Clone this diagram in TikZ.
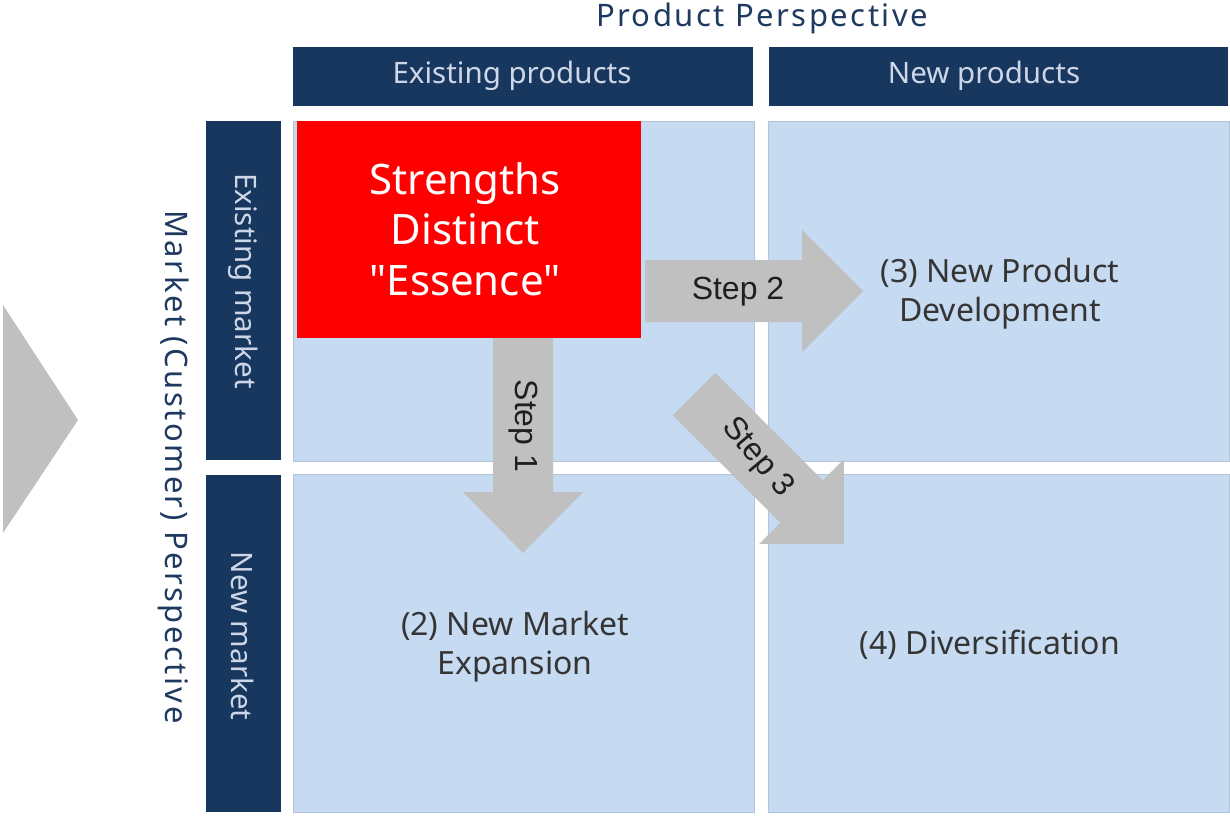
\documentclass[tikz,border=0pt]{standalone}
\usepackage{fontspec}
\setmainfont{Noto Sans}
\newfontfamily\arialf{Liberation Sans}
\newfontfamily\spacedf[LetterSpace=8]{Noto Sans}
\newfontfamily\redf[Ligatures=TeXOff]{Noto Sans}
\usetikzlibrary{calc}
\definecolor{navy}{HTML}{17375E}
\definecolor{hdrtext}{HTML}{CDD7E8}
\definecolor{quadblue}{HTML}{C6DAF2}
\definecolor{quadedge}{HTML}{B4C4D8}
\definecolor{darktext}{HTML}{353535}
\definecolor{arrowgray}{HTML}{C0C0C0}
\definecolor{pptext}{HTML}{1F3A60}
\tikzset{
  hdrbox/.style={fill=navy, draw=none, inner sep=0pt},
  hdrlabel/.style={text=hdrtext, font=\fontsize{29.5}{32}\selectfont, inner sep=0pt},
  quadbox/.style={fill=quadblue, draw=quadedge, line width=0.8pt},
  quadlabel/.style={text=darktext, font=\fontsize{32}{39}\selectfont, align=center, inner sep=0pt},
  steparrow/.style={fill=arrowgray, draw=none},
  steplabel/.style={text=black!88, font=\arialf\fontsize{32}{34}\selectfont, inner sep=0pt},
  perspective/.style={text=pptext, font=\spacedf\fontsize{31}{34}\selectfont, inner sep=0pt}
}
\begin{document}
\begin{tikzpicture}[x=1pt, y=-1pt]
\useasboundingbox (0,0) rectangle (1230,815);
\fill[white] (0,0) rectangle (1230,815);

% left chevron
\fill[arrowgray] (3,305) -- (78,420) -- (3,533) -- cycle;

% perspective titles
\node[perspective] (pp) at (762,18) {Product Perspective};
\node[perspective, rotate=-90] (mp) at (174,467) {Market (Customer) Perspective};

% header boxes
\fill[hdrbox] (293,47) rectangle (753,106);
\node[hdrlabel] (ep) at (512,76) {Existing products};
\fill[hdrbox] (769,47) rectangle (1228,106);
\node[hdrlabel] (np) at (984,76) {New products};
\fill[hdrbox] (206,121) rectangle (281,460);
\node[hdrlabel, rotate=-90] (em) at (243,281) {Existing market};
\fill[hdrbox] (206,475) rectangle (281,812);
\node[hdrlabel, rotate=-90] (nm) at (243,636) {New market};

% quadrants
\draw[quadbox] (293,121) rectangle (754,461);
\draw[quadbox] (768,121) rectangle (1229,461);
\draw[quadbox] (293,474) rectangle (754,812);
\draw[quadbox] (768,474) rectangle (1229,812);

% red box
\fill[red] (297,121) rectangle (641,338);
\node[text=white, font=\redf\fontsize{42}{50.5}\selectfont, align=center, inner sep=0pt] (ess) at (465,229) {Strengths\\Distinct\\"Essence"};

% quadrant labels
\node[quadlabel] (q3) at (1000,294) {(3) New Product\\Development};
\node[quadlabel] (q2) at (515,647) {(2) New Market\\Expansion};
\node[quadlabel] (q4) at (990,645) {(4) Diversification};

% Step 1 arrow (down)
\fill[steparrow] (493,338) -- (553,338) -- (553,492) -- (583,492) -- (523,553) -- (463,492) -- (493,492) -- cycle;
\node[steplabel, rotate=-90] (s1) at (523,426) {Step 1};

% Step 2 arrow (right)
\fill[steparrow] (645,260) -- (802,260) -- (802,230) -- (863,291) -- (802,352) -- (802,322) -- (645,322) -- cycle;
\node[steplabel] (s2) at (738,292) {Step 2};

% Step 3 arrow (diagonal)
\fill[steparrow] (715.2,372.8) -- (822.7,480.3) -- (843.9,459.1) -- (843.9,543.9) -- (759.1,543.9) -- (780.3,522.7) -- (672.8,415.2) -- cycle;
\node[steplabel, rotate=-50] (s3) at (757,458) {Step 3};
\end{tikzpicture}
\end{document}
